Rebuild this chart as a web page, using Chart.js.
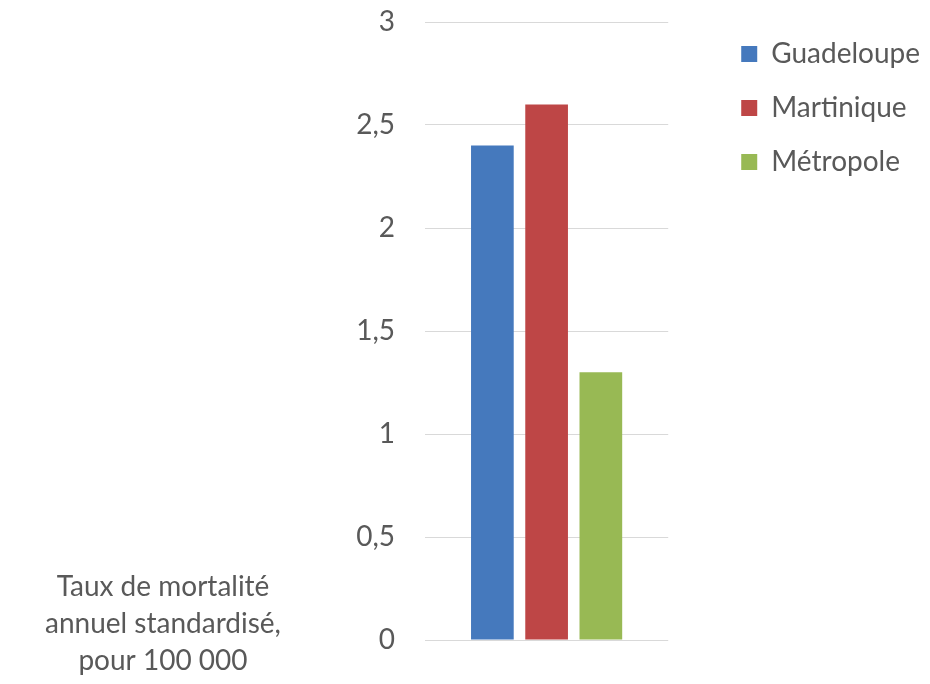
<!DOCTYPE html>
<html>
<head>
<meta charset="utf-8">
<script src="https://cdn.jsdelivr.net/npm/chart.js@4"></script>
<style>
  html, body { margin: 0; padding: 0; background: #fff; }
</style>
</head>
<body>
<canvas id="myChart" width="930" height="684"></canvas>
<script>
const categories = [['Taux de mortalité', 'annuel standardisé,', 'pour 100 000']];
const seriesNames = ['Guadeloupe', 'Martinique', 'Métropole'];
const guadeloupe = [2.4];
const martinique = [2.6];
const metropole = [1.3];
const yTickLabels = ['0', '0,5', '1', '1,5', '2', '2,5', '3'];
const colors = ['#4579BD', '#BE4646', '#98B954'];

const FONT = 'Lato';
const GREY = '#595959';

// category label sits bottom left, like the original
const categoryLabel = {
  id: 'categoryLabel',
  afterDraw(chart) {
    const c = chart.ctx;
    const lines = chart.data.labels[0];
    c.save();
    c.font = '28px ' + FONT;
    c.fillStyle = GREY;
    c.textAlign = 'center';
    c.textBaseline = 'middle';
    lines.forEach((t, i) => c.fillText(t, 163, 587 + i * 37));
    c.restore();
  }
};

const ctx = document.getElementById('myChart').getContext('2d');

new Chart(ctx, {
  type: 'bar',
  data: {
    labels: categories,
    datasets: [
      { label: seriesNames[0], data: guadeloupe, backgroundColor: colors[0] },
      { label: seriesNames[1], data: martinique, backgroundColor: colors[1] },
      { label: seriesNames[2], data: metropole, backgroundColor: colors[2] }
    ]
  },
  options: {
    responsive: false,
    animation: false,
    barPercentage: 0.787,
    categoryPercentage: 0.669,
    layout: { padding: { top: 14, bottom: 44, left: 0, right: 0 } },
    plugins: {
      tooltip: { enabled: false },
      legend: {
        position: 'right',
        align: 'start',
        maxWidth: 400,
        labels: {
          boxWidth: 16,
          boxHeight: 16,
          padding: 26,
          color: GREY,
          font: { family: FONT, size: 28 }
        }
      }
    },
    scales: {
      x: { display: false },
      y: {
        min: 0,
        max: 3,
        border: { display: false },
        grid: { color: '#D9D9D9', lineWidth: 1, drawTicks: true, tickLength: 30, tickColor: 'rgba(0,0,0,0)' },
        ticks: {
          stepSize: 0.5,
          padding: 0,
          color: GREY,
          font: { family: FONT, size: 28, lineHeight: 44 / 28 },
          callback: (v, i) => yTickLabels[i]
        },
        afterFit: s => { s.width = 425; }
      },
      gap: {
        type: 'linear',
        position: 'right',
        display: true,
        border: { display: false },
        grid: { display: false, drawTicks: false },
        ticks: { display: false },
        afterFit: s => { s.width = 47; }
      }
    }
  },
  plugins: [categoryLabel]
});
</script>
</body>
</html>
